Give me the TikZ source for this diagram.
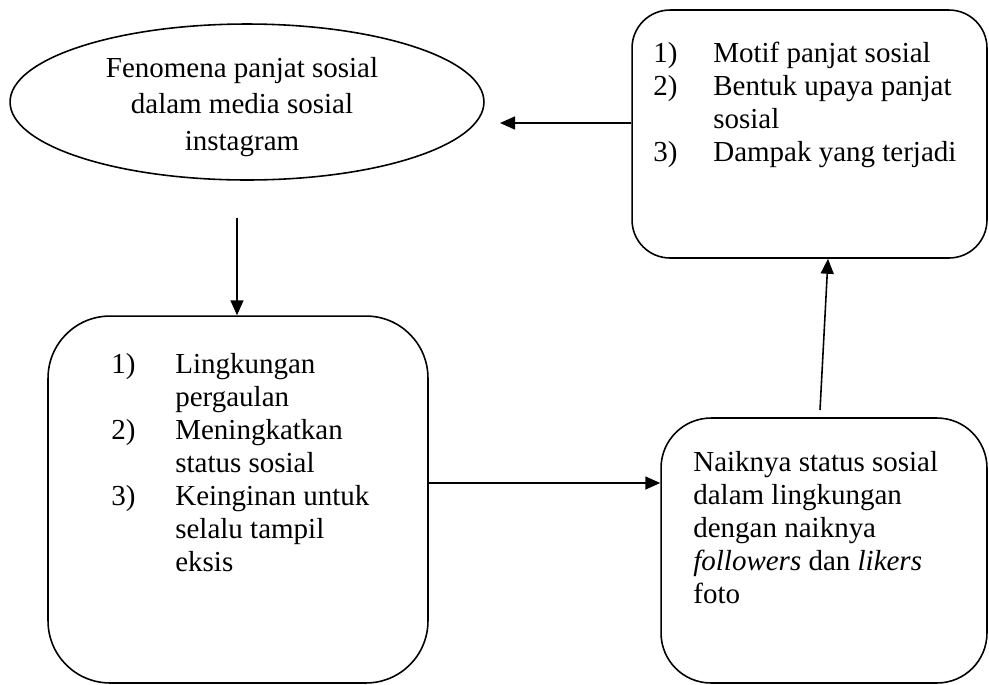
\documentclass[tikz,border=0pt]{standalone}
\usepackage{fontspec}
\setmainfont{Liberation Serif}
\usetikzlibrary{shapes.geometric,arrows.meta}

\begin{document}
\begin{tikzpicture}[x=0.02cm, y=-0.02cm,
		every node/.style={font=\fontsize{16.5}{18.8}\selectfont},
		card/.style={draw, line width=0.9pt, rectangle, inner sep=0pt},
		cardtext/.style={anchor=base west, inner sep=0pt},
		link/.style={-{Triangle[length=0.3cm, width=0.26cm]}, line width=0.9pt}]
				\useasboundingbox (0,0) rectangle (989,684);

				% Nodes
				\node[draw, line width=0.9pt, ellipse, minimum width=9.48cm, minimum height=3.12cm, inner sep=0pt] (phen) at (247,102) {};
				\node[card, rounded corners=0.76cm, minimum width=7.1cm, minimum height=4.96cm] (aims) at (809.5,134) {};
				\node[card, rounded corners=1.24cm, minimum width=7.6cm, minimum height=7.34cm] (causes) at (238,499.5) {};
				\node[card, rounded corners=1.0cm, minimum width=6.52cm, minimum height=5.3cm] (result) at (824,550.5) {};

				% Texts
				\node[anchor=base, inner sep=0pt, font=\fontsize{16.5}{21}\selectfont] (phentext) at (242,77) {\begin{tabular}[t]{@{}c@{}}
						Fenomena panjat sosial\\
						dalam media sosial\\
						instagram
					\end{tabular}};
				\node[cardtext] (aimstext) at (653,62) {\begin{tabular}[t]{@{}p{1.2cm}@{}l@{}}
						1) & Motif panjat sosial\\
						2) & Bentuk upaya panjat\\
						   & sosial\\
						3) & Dampak yang terjadi
					\end{tabular}};
				\node[cardtext] (causestext) at (111,373) {\begin{tabular}[t]{@{}p{1.28cm}@{}l@{}}
						1) & Lingkungan\\
						   & pergaulan\\
						2) & Meningkatkan\\
						   & status sosial\\
						3) & Keinginan untuk\\
						   & selalu tampil\\
						   & eksis
					\end{tabular}};
				\node[cardtext] (resulttext) at (693,471) {\begin{tabular}[t]{@{}l@{}}
						Naiknya status sosial\\
						dalam lingkungan\\
						dengan naiknya\\
						\textit{followers} dan \textit{likers}\\
						foto
					\end{tabular}};

				% Links
				\coordinate (a1) at (500,123);
				\coordinate (a2) at (237,218);
				\coordinate (a3) at (540,483);
				\coordinate (a4) at (820,410);
				\coordinate (b4) at (828,258);
				\draw[link] (aims.west |- a1) -- (a1);
				\draw[link] (a2) -- (a2 |- causes.north);
				\draw[link] (causes.east |- a3) -- (result.west |- a3);
				\draw[link] (a4) -- (aims.south -| b4);
			\end{tikzpicture}
\end{document}
